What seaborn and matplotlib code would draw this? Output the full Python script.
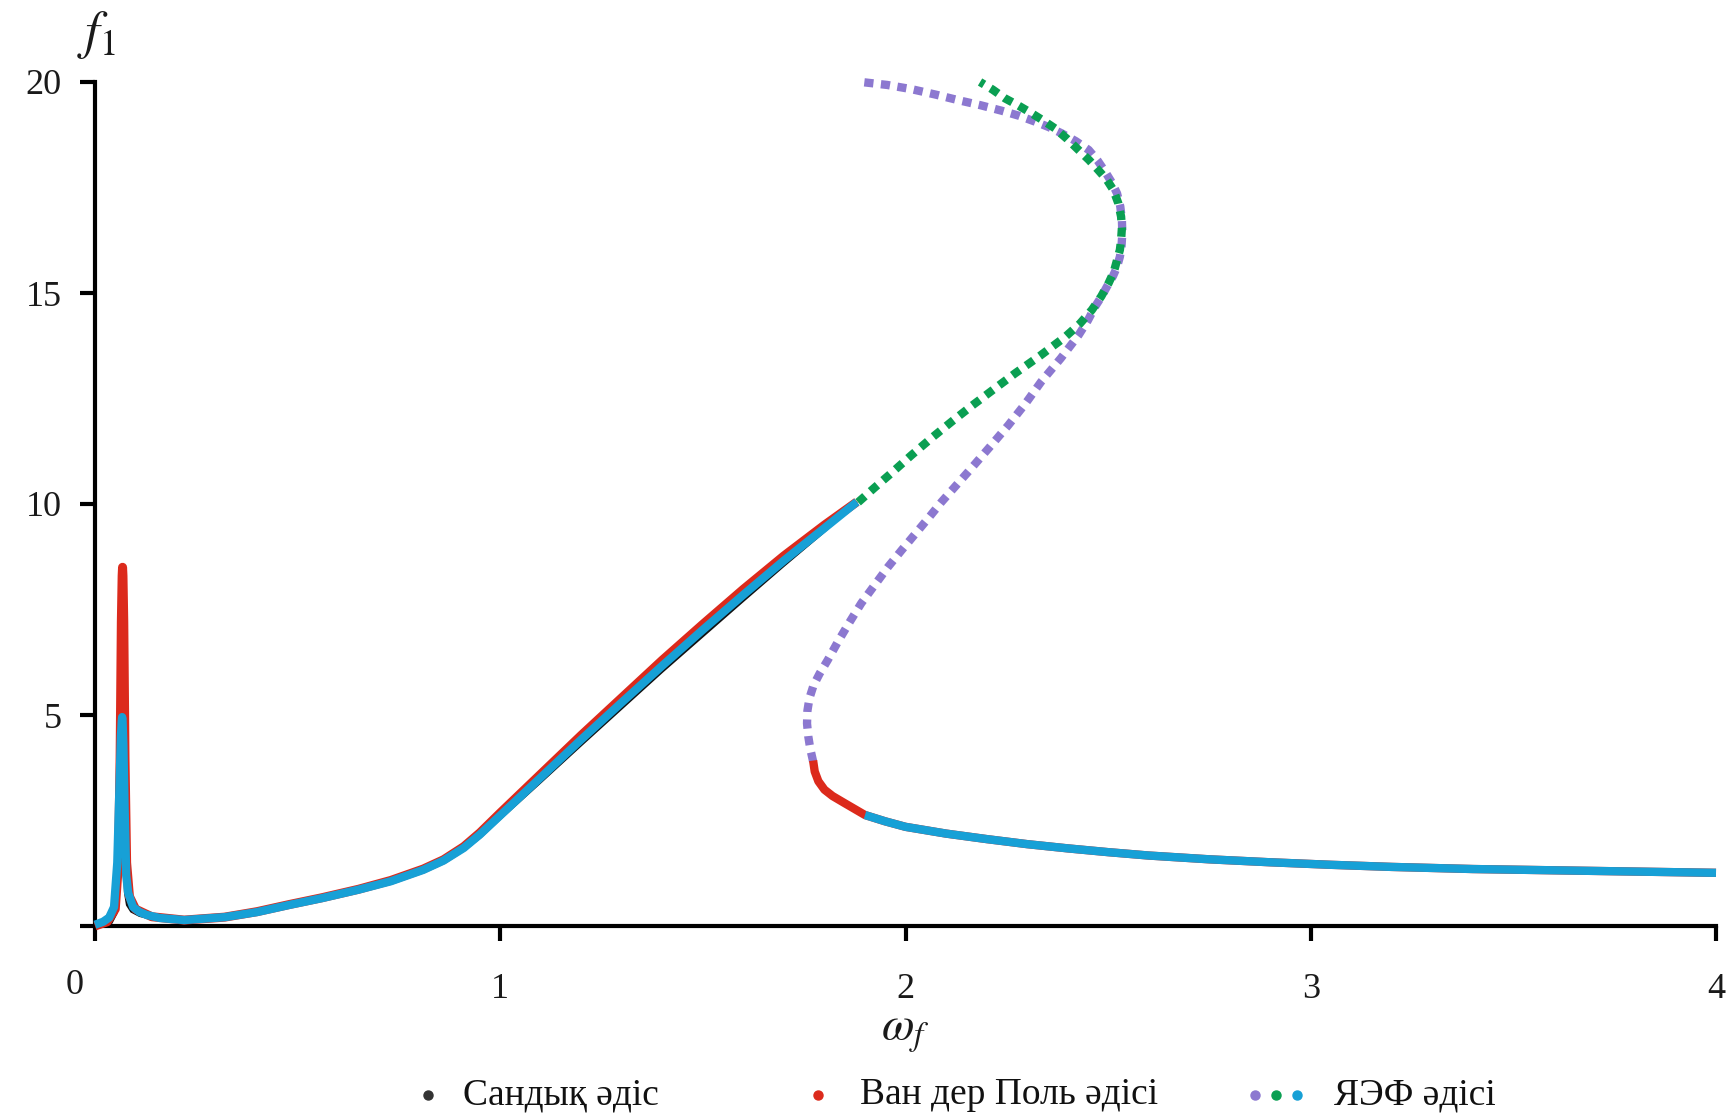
import matplotlib
matplotlib.use("Agg")
import matplotlib.pyplot as plt
from matplotlib.lines import Line2D
import pandas as pd
import seaborn as sns

# ---------------- data ----------------
# Numerical solution (thin black line)
num_main_w = [0.0, 0.02, 0.04, 0.052, 0.058, 0.062, 0.066, 0.069, 0.072, 0.075, 0.08, 0.09,
              0.11, 0.14, 0.22, 0.32, 0.40, 0.48, 0.56, 0.65, 0.73, 0.81, 0.86, 0.91, 0.95,
              1.0, 1.1, 1.2, 1.3, 1.4, 1.5, 1.6, 1.7, 1.8, 1.88]
num_main_f = [0.0, 0.02, 0.08, 0.3, 1.2, 3.0, 4.6, 3.8, 1.6, 0.8, 0.5, 0.35,
              0.25, 0.18, 0.13, 0.19, 0.31, 0.48, 0.64, 0.84, 1.04, 1.30, 1.51, 1.80, 2.10,
              2.55, 3.42, 4.30, 5.17, 6.04, 6.88, 7.72, 8.55, 9.36, 10.05]
num_right_w = [1.772, 1.776, 1.785, 1.80, 1.82, 1.85, 1.875, 1.90, 1.95, 2.0, 2.1, 2.2, 2.3,
               2.4, 2.5, 2.6, 2.75, 2.9, 3.05, 3.2, 3.4, 3.6, 3.8, 4.0]
num_right_f = [3.9, 3.65, 3.42, 3.22, 3.07, 2.9, 2.76, 2.62, 2.47, 2.34, 2.18, 2.05, 1.93,
               1.83, 1.74, 1.66, 1.57, 1.50, 1.44, 1.39, 1.35, 1.31, 1.28, 1.25]

# Van der Pol method (red)
vdp_main_w = [0.0, 0.03, 0.05, 0.058, 0.062, 0.065, 0.067, 0.068, 0.069, 0.071, 0.074, 0.078,
              0.085, 0.1, 0.14, 0.22, 0.32, 0.40, 0.48, 0.56, 0.65, 0.73, 0.81, 0.86, 0.91,
              0.95, 1.0, 1.1, 1.2, 1.3, 1.4, 1.5, 1.6, 1.7, 1.8, 1.88]
vdp_main_f = [0.0, 0.1, 0.4, 1.5, 4.0, 7.2, 8.3, 8.5, 8.3, 7.2, 4.0, 1.5,
              0.7, 0.4, 0.22, 0.14, 0.21, 0.34, 0.51, 0.67, 0.87, 1.08, 1.35, 1.57, 1.88,
              2.21, 2.68, 3.60, 4.52, 5.41, 6.30, 7.15, 7.98, 8.77, 9.50, 10.05]
vdp_right_w = [1.772, 1.776, 1.785, 1.80, 1.82, 1.85, 1.875, 1.90, 1.95, 2.0, 2.1, 2.2, 2.3,
               2.4, 2.5, 2.6, 2.75, 2.9, 3.05, 3.2, 3.4, 3.6, 3.8, 4.0]
vdp_right_f = [3.92, 3.66, 3.43, 3.23, 3.08, 2.91, 2.77, 2.63, 2.48, 2.35, 2.19, 2.06, 1.94,
               1.84, 1.75, 1.67, 1.58, 1.51, 1.45, 1.40, 1.35, 1.32, 1.29, 1.26]

# Harmonic balance (ЯЭФ) method: stable branches (cyan)
yef_main_w = [0.0, 0.02, 0.035, 0.047, 0.055, 0.061, 0.064, 0.066, 0.067, 0.068, 0.070, 0.073,
              0.077, 0.082, 0.094, 0.11, 0.128, 0.16, 0.22, 0.32, 0.40, 0.48, 0.56, 0.65, 0.73,
              0.81, 0.86, 0.91, 0.95, 1.0, 1.1, 1.2, 1.3, 1.4, 1.5, 1.6, 1.7, 1.8, 1.88]
yef_main_f = [0.03, 0.1, 0.2, 0.45, 1.5, 3.5, 4.5, 4.85, 4.95, 4.85, 4.3, 2.8,
              1.2, 0.78, 0.45, 0.33, 0.26, 0.19, 0.14, 0.21, 0.33, 0.50, 0.66, 0.86, 1.06,
              1.33, 1.55, 1.85, 2.17, 2.62, 3.52, 4.42, 5.30, 6.17, 7.02, 7.85, 8.66, 9.43, 10.05]
yef_right_w = [1.90, 1.95, 2.0, 2.1, 2.2, 2.3, 2.4, 2.5, 2.6, 2.75, 2.9, 3.05, 3.2, 3.4,
               3.6, 3.8, 4.0]
yef_right_f = [2.63, 2.48, 2.35, 2.19, 2.06, 1.94, 1.84, 1.75, 1.67, 1.58, 1.51, 1.45, 1.40,
               1.35, 1.32, 1.29, 1.26]

# ЯЭФ: upper branch (green dotted)
yef_upper_w = [1.883, 1.924, 1.966, 2.015, 2.065, 2.115, 2.164, 2.218, 2.271, 2.333, 2.394,
               2.43, 2.460, 2.483, 2.501, 2.514, 2.522, 2.529, 2.532, 2.534, 2.532, 2.525,
               2.513, 2.497, 2.476, 2.453, 2.427, 2.399, 2.369, 2.341, 2.311, 2.279, 2.246,
               2.215, 2.184]
yef_upper_f = [10.04, 10.39, 10.74, 11.16, 11.57, 11.96, 12.33, 12.72, 13.10, 13.52, 13.96,
               14.27, 14.6, 14.92, 15.23, 15.5, 15.78, 16.02, 16.26, 16.54, 16.81, 17.13,
               17.44, 17.68, 17.91, 18.15, 18.39, 18.65, 18.90, 19.08, 19.26, 19.44, 19.61,
               19.82, 20.0]

# ЯЭФ: unstable branch (purple dotted)
yef_unst_w = [1.772, 1.765, 1.760, 1.757, 1.758, 1.763, 1.773, 1.788, 1.808, 1.834, 1.862,
              1.891, 1.924, 1.957, 1.99, 2.023, 2.056, 2.089, 2.124, 2.159, 2.207, 2.254,
              2.296, 2.335, 2.383, 2.427, 2.45, 2.468, 2.484, 2.497, 2.512, 2.522, 2.529,
              2.533, 2.535, 2.534, 2.530, 2.522, 2.509, 2.493, 2.474, 2.452, 2.42, 2.386,
              2.354, 2.320, 2.28, 2.237, 2.185, 2.130, 2.075, 2.015, 1.955, 1.891]
yef_unst_f = [3.90, 4.2, 4.5, 4.8, 5.1, 5.4, 5.7, 5.98, 6.3, 6.75, 7.2,
              7.65, 8.08, 8.51, 8.9, 9.28, 9.66, 10.05, 10.43, 10.81, 11.34, 11.87,
              12.38, 12.9, 13.45, 14.0, 14.35, 14.68, 14.92, 15.15, 15.4, 15.62, 15.86,
              16.10, 16.42, 16.73, 17.05, 17.36, 17.62, 17.87, 18.14, 18.39, 18.6, 18.78,
              18.93, 19.06, 19.2, 19.32, 19.45, 19.57, 19.70, 19.83, 19.93, 20.0]

x_ticks = [0, 1, 2, 3, 4]
x_tick_labels = ["", "1", "2", "3", "4"]
y_ticks = [0, 5, 10, 15, 20]
y_tick_labels = ["", "5", "10", "15", "20"]
legend_labels = ["Сандық әдіс", "Ван дер Поль әдісі", "ЯЭФ әдісі"]

# ---------------- style ----------------
BLACK = "#111111"
RED = "#dc2a1c"
CYAN = "#17a0d6"
GREEN = "#0a9f52"
PURPLE = "#8c78d0"
TEXT = "#1a1a1a"

sns.set_theme(style="white")
plt.rcParams["font.family"] = ["Liberation Serif", "DejaVu Serif"]
plt.rcParams["mathtext.fontset"] = "stix"

fig = plt.figure(figsize=(17.29, 11.18), dpi=100)
ax = fig.add_axes([95 / 1729, 1 - 926 / 1118, (1716 - 95) / 1729, (926 - 82) / 1118])


def draw(w, f, color, lw, dotted=False, z=2):
    df = pd.DataFrame({"w": w, "f": f})
    kw = dict(solid_joinstyle="round", solid_capstyle="butt")
    if dotted:
        kw = dict(linestyle=(0, (1.1, 0.9)), dash_capstyle="butt")
    sns.lineplot(data=df, x="w", y="f", sort=False, estimator=None, color=color,
                 linewidth=lw, ax=ax, zorder=z, clip_on=False, **kw)


draw(yef_unst_w, yef_unst_f, PURPLE, 6.0, dotted=True, z=2)
draw(yef_upper_w, yef_upper_f, GREEN, 6.0, dotted=True, z=2.1)
draw(num_main_w, num_main_f, BLACK, 2.2, z=3)
draw(num_right_w, num_right_f, BLACK, 2.2, z=3)
draw(vdp_main_w, vdp_main_f, RED, 6.5, z=4)
draw(vdp_right_w, vdp_right_f, RED, 6.0, z=4)
draw(yef_main_w, yef_main_f, CYAN, 6.0, z=5)
draw(yef_right_w, yef_right_f, CYAN, 6.0, z=5)

ax.set_xlim(0, 4)
ax.set_ylim(0, 20)
ax.set_xticks(x_ticks)
ax.set_xticklabels(x_tick_labels)
ax.set_yticks(y_ticks)
ax.set_yticklabels(y_tick_labels)
for s in ["top", "right"]:
    ax.spines[s].set_visible(False)
for s in ["left", "bottom"]:
    ax.spines[s].set_color("black")
    ax.spines[s].set_linewidth(3.0)
ax.tick_params(axis="both", direction="out", length=11, width=3, colors="black",
               labelsize=26, labelcolor=TEXT)
ax.tick_params(axis="x", pad=23, bottom=True)
ax.tick_params(axis="y", pad=13, left=True)
ax.set_xlabel(r"$\omega_f$", fontsize=34, color=TEXT)
ax.xaxis.set_label_coords(0.5, -0.103)
ax.set_ylabel("")
fig.text(96 / 1729, 1 - 35 / 1118, r"$f_{\mathrm{1}}$", fontsize=38, color=TEXT,
         ha="center", va="center")
# shared origin label
fig.text(75 / 1729, 1 - 985 / 1118, "0", fontsize=26, color=TEXT, ha="center", va="center")

# ---------------- legend ----------------
ly = 1 - 1095 / 1118
handles = [
    [(428, "#333333")],
    [(818, RED)],
    [(1255, PURPLE), (1276, GREEN), (1297, CYAN)],
]
text_x = [463, 860, 1334]
for group, tx, lab in zip(handles, text_x, legend_labels):
    for px, c in group:
        fig.add_artist(Line2D([px / 1729], [ly], marker="o", markersize=6.5, color=c,
                              linestyle="none", transform=fig.transFigure))
    fig.text(tx / 1729, ly, lab, fontsize=27, color="#111111", ha="left", va="center")

fig.savefig("out.png", dpi=100, facecolor="white")
